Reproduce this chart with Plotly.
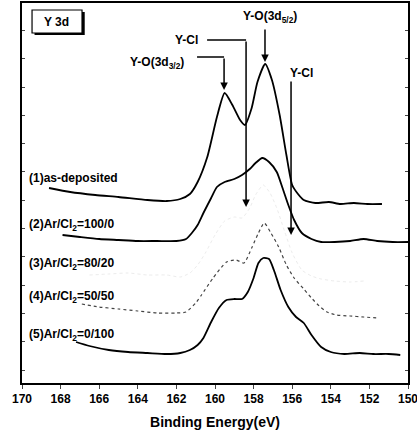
import plotly.graph_objects as go

# ---- data (binding energy in eV, intensity in arbitrary offset units) ----
e1 = [168.6, 167.5, 166.2, 165.0, 163.5, 162.5, 161.8, 161.3, 160.9, 160.4, 159.9, 159.5, 159.1,
      158.7, 158.45, 158.1, 157.8, 157.4, 157.05, 156.65, 156.3, 156.0, 155.7, 155.4, 154.8,
      154.1, 153.5, 152.8, 152.1, 151.35]
i1 = [195, 191, 188, 186, 183, 182, 184, 189, 201, 226, 266, 290, 278,
      263, 258, 275, 301, 319, 303, 268, 228, 198, 189, 183, 180,
      181, 179, 180, 179, 179]

e2 = [167.9, 167.0, 166.0, 165.0, 164.0, 163.0, 162.0, 161.5, 161.2, 160.9, 160.6, 160.2, 159.9,
      159.5, 159.0, 158.6, 158.2, 157.9, 157.55, 157.2, 156.8, 156.5, 156.2, 155.9, 155.5,
      155.0, 154.5, 153.8, 153.0, 152.3, 151.6, 150.8, 150.0]
i2 = [148, 146, 144, 143, 142, 142, 142, 144, 150, 158, 170, 185, 196,
      201, 204, 208, 214, 220, 225, 221, 211, 195, 178, 163, 150,
      144, 141, 141, 142, 144, 142, 141, 141]

e3 = [166.5, 165.5, 164.5, 163.5, 162.5, 161.8, 161.3, 160.9, 160.5, 160.0, 159.5, 159.0, 158.6,
      158.2, 157.9, 157.5, 157.15, 156.8, 156.4, 156.0, 155.5, 155.0, 154.5, 153.8, 153.0, 152.3]
i3 = [108, 109, 110, 108, 108, 106, 110, 118, 130, 148, 162, 166, 165,
      175, 188, 198, 190, 175, 152, 130, 113, 107, 104, 102, 101, 102]

e4 = [166.9, 166.0, 165.0, 164.0, 163.0, 162.0, 161.5, 161.0, 160.7, 160.1, 159.4, 158.9, 158.5,
      158.1, 157.75, 157.45, 157.1, 156.7, 156.3, 155.9, 155.4, 155.0, 154.6, 154.2, 153.7,
      153.0, 152.3, 151.6]
i4 = [79, 76, 74, 72, 70, 70, 71, 80, 88, 105, 121, 123, 120,
      135, 150, 160, 150, 136, 118, 105, 94, 85, 77, 71, 68,
      67, 66, 65]

e5 = [167.2, 166.5, 165.5, 164.5, 163.5, 162.5, 161.8, 161.3, 160.9, 160.6, 160.2, 159.8, 159.4,
      159.0, 158.6, 158.3, 158.0, 157.75, 157.5, 157.2, 156.95, 156.6, 156.2, 155.8, 155.4,
      155.0, 154.5, 154.0, 153.3, 152.5, 151.8, 151.0, 150.4]
i5 = [41, 37, 33, 31, 30, 29, 30, 33, 38, 45, 61, 75, 83,
      84, 84, 91, 105, 120, 125, 124, 113, 93, 76, 66, 60,
      48, 36, 31, 29, 30, 29, 29, 28]

sample_labels = ["(1)as-deposited", "(2)Ar/Cl<sub>2</sub>=100/0", "(3)Ar/Cl<sub>2</sub>=80/20",
                 "(4)Ar/Cl<sub>2</sub>=50/50", "(5)Ar/Cl<sub>2</sub>=0/100"]
label_y = [205, 158, 119, 86, 48]
x_ticks = [170, 168, 166, 164, 162, 160, 158, 156, 154, 152, 150]

FONT = "Liberation Sans, Arial, sans-serif"

fig = go.Figure()
fig.add_trace(go.Scatter(x=e1, y=i1, mode="lines", line=dict(color="black", width=1.8, shape="spline", smoothing=0.6)))
fig.add_trace(go.Scatter(x=e2, y=i2, mode="lines", line=dict(color="black", width=1.8, shape="spline", smoothing=0.6)))
fig.add_trace(go.Scatter(x=e3, y=i3, mode="lines", line=dict(color="#ececec", width=1, dash="dot", shape="spline", smoothing=0.6)))
fig.add_trace(go.Scatter(x=e4, y=i4, mode="lines", line=dict(color="#444444", width=1.2, dash="dot", shape="spline", smoothing=0.6)))
fig.add_trace(go.Scatter(x=e5, y=i5, mode="lines", line=dict(color="black", width=1.8, shape="spline", smoothing=0.6)))

for txt, yy in zip(sample_labels, label_y):
    fig.add_annotation(x=169.75, y=yy, text="<b>" + txt + "</b>", showarrow=False, xanchor="left", yanchor="middle",
                       font=dict(family=FONT, size=12, color="black"))

# "Y 3d" box with shadow
fig.add_shape(type="rect", x0=169.35, x1=166.75, y0=348, y1=371, fillcolor="black", line=dict(width=0))
fig.add_shape(type="rect", x0=169.48, x1=166.89, y0=350, y1=373, fillcolor="white", line=dict(color="black", width=1.2))
fig.add_annotation(x=168.19, y=361.5, text="<b>Y 3d</b>", showarrow=False,
                   font=dict(family=FONT, size=12, color="black"))

# peak labels and arrows
peak_font = dict(family=FONT, size=12, color="black")
fig.add_annotation(x=157.15, y=366, text="<b>Y-O(3d<sub>5/2</sub>)</b>", showarrow=False, font=peak_font)
fig.add_annotation(x=161.5, y=343, text="<b>Y-Cl</b>", showarrow=False, font=peak_font)
fig.add_annotation(x=163.0, y=320, text="<b>Y-O(3d<sub>3/2</sub>)</b>", showarrow=False, font=peak_font)
fig.add_annotation(x=155.5, y=310, text="<b>Y-Cl</b>", showarrow=False, font=peak_font)

fig.add_shape(type="line", x0=160.41, x1=158.39, y0=343, y1=343, line=dict(color="black", width=1.5))
fig.add_shape(type="line", x0=160.93, x1=159.53, y0=326, y1=326, line=dict(color="black", width=1.5))

arrows = [(158.39, 343, 176), (159.53, 326, 293), (157.41, 355, 321), (156.06, 303, 148)]
for ex, ystart, yend in arrows:
    fig.add_annotation(x=ex, y=yend, ax=ex, ay=ystart, axref="x", ayref="y", xref="x", yref="y",
                       text="", showarrow=True, arrowhead=2, arrowsize=1, arrowwidth=1.5, arrowcolor="black")

fig.update_layout(
    width=417, height=430,
    margin=dict(l=22, r=9, t=3, b=47, autoexpand=False),
    paper_bgcolor="white", plot_bgcolor="white",
    showlegend=False,
    font=dict(family=FONT, color="black"),
)
fig.update_xaxes(range=[170, 150], tickvals=x_ticks, ticktext=["<b>%d</b>" % t for t in x_ticks],
                 ticks="outside", ticklen=4, tickwidth=1.2, ticklabeloverflow="allow", automargin=False,
                 showline=True, linecolor="black", linewidth=1.5, mirror=True, showgrid=False, zeroline=False,
                 tickfont=dict(family=FONT, size=12, color="black"),
                 title=dict(text="<b>Binding Energy(eV)</b>", standoff=12,
                            font=dict(family=FONT, size=14, color="black")))
fig.update_yaxes(range=[0, 380], showticklabels=False, ticks="inside", ticklen=3, tick0=13, dtick=28.3,
                 automargin=False,
                 showline=True, linecolor="black", linewidth=1.5, mirror="ticks", showgrid=False, zeroline=False)

fig.write_html("out.html")
